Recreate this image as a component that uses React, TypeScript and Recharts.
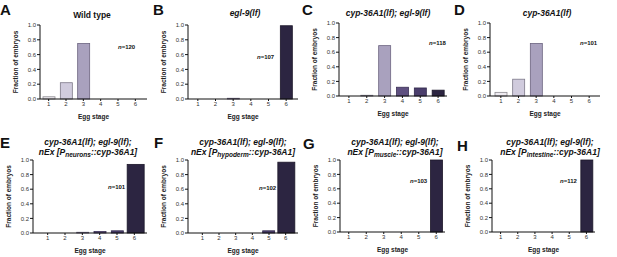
import React from "react"
import { BarChart, Bar, XAxis, YAxis, Cell } from "recharts"

const stages = ["1", "2", "3", "4", "5", "6"]
const yTicks = [0, 0.2, 0.4, 0.6, 0.8, 1.0]

const wildType = [0.03, 0.22, 0.75, 0, 0, 0]
const egl9 = [0, 0, 0.01, 0, 0, 0.99]
const cypEgl9 = [0, 0.01, 0.69, 0.12, 0.11, 0.08]
const cyp = [0.05, 0.23, 0.72, 0, 0, 0]
const neurons = [0, 0, 0.01, 0.02, 0.03, 0.94]
const hypoderm = [0, 0, 0, 0, 0.03, 0.97]
const muscle = [0, 0, 0, 0, 0, 1.0]
const intestine = [0, 0, 0, 0, 0, 1.0]

const nCounts = [120, 107, 118, 101, 101, 102, 103, 112]

const stageFill = ["#eeebf1", "#d0cbdd", "#a9a1be", "#5f5080", "#4b3e6c", "#2c2541"]
const stageStroke = ["#8c8a90", "#7c7888", "#6c6480", "#3b3055", "#30284a", "#1c1729"]

const font = "'Liberation Sans', Arial, sans-serif"

interface Geo {
	ax: number
	end: number
	top: number
	bottom: number
	padL: number
	padR: number
}

interface PanelProps {
	values: number[]
	n: number
	geo: Geo
	letter: string
	letterX: number
	letterY: number
	title: React.ReactNode
	titleX: number
	titleY: number
	nX: number
	nY: number
	wideLast?: boolean
}

const YLabel = (props: any) => {
	const { viewBox } = props
	const cx = viewBox.x + 5
	const cy = viewBox.y + viewBox.height / 2
	return (
		<text
			x={cx}
			y={cy}
			transform={`rotate(-90 ${cx} ${cy})`}
			textAnchor="middle"
			dominantBaseline="central"
			fontSize={6.5}
			fontWeight="bold"
			fill="#222"
			fontFamily={font}
		>
			Fraction of embryos
		</text>
	)
}

const Panel: React.FC<PanelProps> = ({ values, n, geo, letter, letterX, letterY, title, titleX, titleY, nX, nY, wideLast }) => {
	const data = stages.map((s, i) => ({ stage: s, value: values[i] }))
	const yw = 30
	const mt = 6
	const xh = 22
	const width = geo.end - geo.ax + yw + 4
	const height = geo.bottom - geo.top + mt + xh

	// the last bar is drawn wider in panels E and F of the original figure
	const barShape = (p: any) => {
		const { x, y, width: w, height: h, index } = p
		if (!h || h <= 0) return <g />
		let bx = x
		let bw = w
		if (wideLast && index === 5) {
			bw = 17
			bx = x + w / 2 - bw / 2 + 1
		}
		return <rect x={bx} y={y} width={bw} height={h} fill={stageFill[index]} stroke={stageStroke[index]} strokeWidth={0.8} />
	}

	return (
		<>
			<div style={{ position: "absolute", left: letterX, top: letterY, fontSize: 15, fontWeight: "bold", lineHeight: "15px" }}>
				{letter}
			</div>
			<div
				style={{
					position: "absolute",
					left: titleX - 80,
					width: 160,
					top: titleY,
					textAlign: "center",
					fontSize: 8.5,
					lineHeight: "10px",
					fontWeight: "bold",
				}}
			>
				{title}
			</div>
			<div style={{ position: "absolute", left: geo.ax - yw, top: geo.top - mt }}>
				<BarChart width={width} height={height} data={data} margin={{ top: mt, right: 4, left: 0, bottom: 0 }}>
					<XAxis
						dataKey="stage"
						height={xh}
						padding={{ left: geo.padL, right: geo.padR }}
						tickSize={2}
						tickMargin={1}
						tick={{ fontSize: 6, fill: "#333", fontFamily: font }}
						axisLine={{ stroke: "#111", strokeWidth: 1 }}
						tickLine={{ stroke: "#111" }}
						label={{ value: "Egg stage", position: "insideBottom", offset: 2, fontSize: 6.5, fontWeight: "bold", fill: "#222", fontFamily: font }}
					/>
					<YAxis
						width={yw}
						domain={[0, 1]}
						ticks={yTicks}
						tickFormatter={(v: number) => v.toFixed(1)}
						tickSize={3}
						tickMargin={1}
						tick={{ fontSize: 6, fill: "#333", fontFamily: font }}
						axisLine={{ stroke: "#111", strokeWidth: 1 }}
						tickLine={{ stroke: "#111" }}
						label={{ content: YLabel }}
					/>
					<Bar dataKey="value" barSize={12} isAnimationActive={false} shape={barShape}>
						{data.map((d, i) => (
							<Cell key={d.stage} fill={stageFill[i]} stroke={stageStroke[i]} />
						))}
					</Bar>
				</BarChart>
			</div>
			<div style={{ position: "absolute", left: nX, top: nY - 4, fontSize: 6, fontWeight: "bold", lineHeight: "8px", color: "#111" }}>
				<i>n</i>={n}
			</div>
		</>
	)
}

const sub = (p: string) => (
	<>
		nEx [P<sub style={{ fontSize: 6.5, verticalAlign: "-2px", lineHeight: 0 }}>{p}</sub>::cyp-36A1]
	</>
)

const twoLine = (p: string) => (
	<i>
		cyp-36A1(lf); egl-9(lf);
		<br />
		{sub(p)}
	</i>
)

export default function App() {
	return (
		<div style={{ position: "absolute", left: 0, top: 0, width: 617, height: 257, background: "#fff", fontFamily: font, color: "#111", overflow: "hidden" }}>
			<Panel values={wildType} n={nCounts[0]} geo={{ ax: 40, end: 147, top: 25, bottom: 99, padL: 0, padR: 3 }}
				letter="A" letterX={0} letterY={2} title="Wild type" titleX={92} titleY={10} nX={118} nY={47} />
			<Panel values={egl9} n={nCounts[1]} geo={{ ax: 188, end: 298, top: 25, bottom: 99, padL: 1, padR: 3 }}
				letter="B" letterX={153} letterY={2} title={<i>egl-9(lf)</i>} titleX={245} titleY={8} nX={257} nY={57} />
			<Panel values={cypEgl9} n={nCounts[2]} geo={{ ax: 339, end: 447, top: 23, bottom: 96, padL: 1, padR: 0 }}
				letter="C" letterX={302} letterY={2} title={<i>cyp-36A1(lf); egl-9(lf)</i>} titleX={388} titleY={8} nX={429} nY={43} />
			<Panel values={cyp} n={nCounts[3]} geo={{ ax: 490, end: 600, top: 23, bottom: 96, padL: 2, padR: 2 }}
				letter="D" letterX={454} letterY={2} title={<i>cyp-36A1(lf)</i>} titleX={547} titleY={8} nX={580} nY={43} />
			<Panel values={neurons} n={nCounts[4]} geo={{ ax: 33, end: 147, top: 160, bottom: 233, padL: 6, padR: 4 }}
				letter="E" letterX={0} letterY={135} title={twoLine("neurons")} titleX={88} titleY={137} nX={108} nY={187} wideLast />
			<Panel values={hypoderm} n={nCounts[5]} geo={{ ax: 188, end: 298, top: 160, bottom: 233, padL: 6, padR: 4 }}
				letter="F" letterX={154} letterY={135} title={twoLine("hypoderm")} titleX={243} titleY={137} nX={259} nY={188} wideLast />
			<Panel values={muscle} n={nCounts[6]} geo={{ ax: 340, end: 445, top: 160, bottom: 232, padL: 0, padR: 0 }}
				letter="G" letterX={303} letterY={136} title={twoLine("muscle")} titleX={395} titleY={137} nX={410} nY={181} />
			<Panel values={intestine} n={nCounts[7]} geo={{ ax: 492, end: 595, top: 160, bottom: 232, padL: 0, padR: 0 }}
				letter="H" letterX={457} letterY={138} title={twoLine("intestine")} titleX={550} titleY={137} nX={560} nY={181} />
		</div>
	)
}
